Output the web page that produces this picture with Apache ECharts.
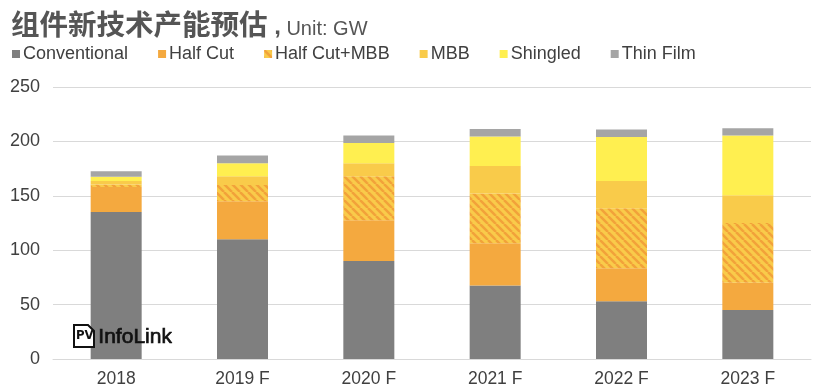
<!DOCTYPE html>
<html>
<head>
<meta charset="utf-8">
<script src="https://cdn.jsdelivr.net/npm/echarts@6/dist/echarts.min.js"></script>
<style>
html,body{margin:0;padding:0;background:#fff;}
#chart{width:817px;height:392px;}
</style>
</head>
<body>
<div id="chart"></div>
<script>
var categories = ['2018', '2019 F', '2020 F', '2021 F', '2022 F', '2023 F'];
var conventional = [135, 110, 90, 67.5, 53, 45];
var halfCut = [23, 35, 37.5, 39, 30.5, 25];
var halfCutMBB = [2.5, 15, 40.5, 45.5, 55, 55];
var mbb = [3, 8, 12, 25.5, 25, 25.5];
var shingled = [4, 12, 18.5, 27, 40.5, 55];
var thinFilm = [5, 7, 7, 7, 7, 6.5];
var yTicks = [0, 50, 100, 150, 200, 250];

var C_CONV = '#7F7F7F', C_HC = '#F4A93F', C_MBB = '#F9CB4A', C_SH = '#FFEF50', C_TF = '#A5A5A5';

function hatch() {
  var s = 8;
  var cv = document.createElement('canvas');
  cv.width = s; cv.height = s;
  var g = cv.getContext('2d');
  g.fillStyle = C_MBB; g.fillRect(0, 0, s, s);
  g.strokeStyle = '#F2A23A'; g.lineWidth = 2.5;
  [-s, 0, s].forEach(function (k) {
    g.beginPath(); g.moveTo(k, 0); g.lineTo(k + s, s); g.stroke();
  });
  return cv;
}
var hatchColor = { image: hatch(), repeat: 'repeat' };

var chart = echarts.init(document.getElementById('chart'), null, { renderer: 'canvas' });

function bar(name, data, color) {
  return {
    name: name, type: 'bar', stack: 'total', data: data, barWidth: 51,
    itemStyle: { color: color }, emphasis: { disabled: true }
  };
}

chart.setOption({
  animation: false,
  backgroundColor: '#fff',
  title: {
    left: 6, top: 4,
    text: '{a|组件新技术产能预估}{c| ,}{b| Unit: GW}',
    textStyle: {
      rich: {
        a: { fontSize: 28.5, fontWeight: 'bold', color: '#555555', fontFamily: 'Noto Sans CJK SC' },
        c: { fontSize: 24, fontWeight: 'bold', color: '#555555', fontFamily: 'Liberation Sans', padding: [6, 0, 0, 0] },
        b: { fontSize: 20, fontWeight: 'normal', color: '#555555', fontFamily: 'Liberation Sans', padding: [10, 0, 0, 0] }
      }
    }
  },
  legend: {
    left: 7, top: 40, itemWidth: 8, itemHeight: 8, itemGap: 30,
    icon: 'rect',
    textStyle: { fontSize: 18, color: '#404040', fontFamily: 'Liberation Sans', padding: [0, 0, 0, -2] },
    data: ['Conventional', 'Half Cut', 'Half Cut+MBB', 'MBB', 'Shingled', 'Thin Film']
  },
  grid: { left: 53, right: 6, top: 87, bottom: 33 },
  xAxis: {
    type: 'category', data: categories,
    axisLine: { lineStyle: { color: '#D9D9D9', width: 1 } },
    axisTick: { show: false },
    axisLabel: { fontSize: 17.5, color: '#404040', fontFamily: 'Liberation Sans', margin: 11 }
  },
  yAxis: {
    type: 'value', min: yTicks[0], max: yTicks[yTicks.length - 1], interval: 50,
    axisLine: { show: false }, axisTick: { show: false },
    splitLine: { lineStyle: { color: '#D9D9D9', width: 1 } },
    axisLabel: { fontSize: 18, color: '#404040', fontFamily: 'Liberation Sans', margin: 13 }
  },
  series: [
    bar('Conventional', conventional, C_CONV),
    bar('Half Cut', halfCut, C_HC),
    bar('Half Cut+MBB', halfCutMBB, hatchColor),
    bar('MBB', mbb, C_MBB),
    bar('Shingled', shingled, C_SH),
    bar('Thin Film', thinFilm, C_TF)
  ],
  graphic: [
    { type: 'polygon', z: 100,
      shape: { points: [[74, 325], [88, 325], [94, 331], [94, 347], [74, 347]] },
      style: { fill: '#fff', stroke: '#111', lineWidth: 2 } },
    { type: 'text', z: 101, left: 76, top: 329,
      style: { text: 'PV', fontSize: 13, fontWeight: 'bold', fill: '#111', fontFamily: 'DejaVu Sans Condensed' } },
    { type: 'text', z: 101, left: 98, top: 326,
      style: { text: 'InfoLink', fontSize: 21, fontWeight: 'normal', fill: '#111', stroke: '#111', lineWidth: 0.7, fontFamily: 'Liberation Sans' } }
  ]
});
</script>
</body>
</html>
